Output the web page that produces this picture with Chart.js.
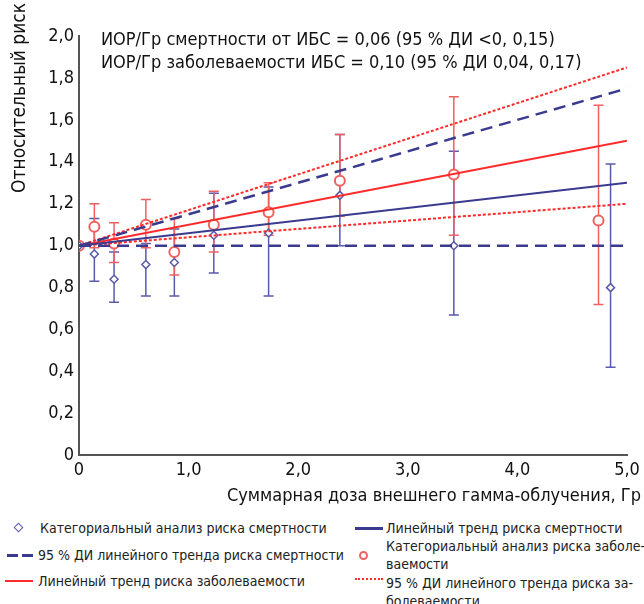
<!DOCTYPE html>
<html>
<head>
<meta charset="utf-8">
<script src="https://cdn.jsdelivr.net/npm/chart.js@4.4.1/dist/chart.umd.min.js"></script>
<style>
  body { margin: 0; background: #fff; }
  #wrap { position: relative; width: 644px; height: 604px; }
  canvas { position: absolute; left: 0; top: 0; }
  .lg { position: absolute; font-family: "DejaVu Sans Condensed", "DejaVu Sans", sans-serif; font-size: 14px; color: #222; line-height: 18px; white-space: nowrap; }
  .mk { position: absolute; }
</style>
</head>
<body>
<div id="wrap">
  <canvas id="chart" width="644" height="510"></canvas>
  <!-- legend -->
  <div class="mk" style="left:15px;top:524px;width:5px;height:5px;border:1.5px solid #5a5aaa;transform:rotate(45deg);background:#fff"></div>
  <div class="lg" style="left:40px;top:519px">Категориальный анализ риска смертности</div>
  <div class="mk" style="left:7px;top:554px;width:26px;height:3px;background:repeating-linear-gradient(90deg,#3a3a8f 0 11px,transparent 11px 15px)"></div>
  <div class="lg" style="left:38px;top:546px">95 % ДИ линейного тренда риска смертности</div>
  <div class="mk" style="left:5px;top:580px;width:28px;border-top:2px solid #ff2a2a"></div>
  <div class="lg" style="left:38px;top:572px">Линейный тренд риска заболеваемости</div>
  <div class="mk" style="left:355px;top:527px;width:28px;border-top:3px solid #3a3a8f"></div>
  <div class="lg" style="left:386px;top:519px">Линейный тренд риска смертности</div>
  <div class="mk" style="left:359px;top:551px;width:5px;height:5px;border:2px solid #f06060;border-radius:50%"></div>
  <div class="lg" style="left:386px;top:537px">Категориальный анализ риска заболе-<br>ваемости</div>
  <div class="mk" style="left:355px;top:578px;width:28px;border-top:2px dotted #ff2a2a"></div>
  <div class="lg" style="left:386px;top:574px">95 % ДИ линейного тренда риска за-<br>болеваемости</div>
</div>
<script>
// categorical analysis, mortality
const doseMort = [0, 0.14, 0.32, 0.61, 0.87, 1.23, 1.73, 2.38, 3.42, 4.85];
const rrMort   = [1.0, 0.96, 0.84, 0.91, 0.92, 1.05, 1.06, 1.24, 1.00, 0.80];
const loMort   = [null, 0.83, 0.73, 0.76, 0.76, 0.87, 0.76, 1.00, 0.67, 0.42];
const hiMort   = [null, 1.13, 0.97, 1.01, 1.08, 1.25, 1.28, 1.53, 1.45, 1.39];

// categorical analysis, morbidity
const doseMorb = [0, 0.14, 0.32, 0.61, 0.87, 1.23, 1.73, 2.38, 3.42, 4.74];
const rrMorb   = [1.0, 1.09, 1.01, 1.10, 0.97, 1.10, 1.16, 1.31, 1.34, 1.12];
const loMorb   = [null, 0.99, 0.92, 0.99, 0.86, 0.97, 1.05, 1.14, 1.05, 0.72];
const hiMorb   = [null, 1.20, 1.11, 1.22, 1.13, 1.26, 1.30, 1.53, 1.71, 1.67];

// ERR/Gy trends
const trendX = [0, 5];
const errMort = 0.06, errMortLo = 0.0, errMortHi = 0.15;
const errMorb = 0.10, errMorbLo = 0.04, errMorbHi = 0.17;

const xTicks = [0, 1, 2, 3, 4, 5];
const yTicks = [0, 0.2, 0.4, 0.6, 0.8, 1.0, 1.2, 1.4, 1.6, 1.8, 2.0];
const notes = [
  'ИОР/Гр смертности от ИБС = 0,06 (95 % ДИ <0, 0,15)',
  'ИОР/Гр заболеваемости ИБС = 0,10 (95 % ДИ 0,04, 0,17)'
];

const FONT = '"DejaVu Sans Condensed", "DejaVu Sans", sans-serif';
const BLUE = '#3a3a8f', BLUE_L = '#5a5aaa', RED = '#ff2a2a', RED_L = '#f06060';

const pts = (xs, ys) => xs.map((x, i) => ({ x: x, y: ys[i] }));
const trend = err => trendX.map(x => ({ x: x, y: 1 + err * x }));
const fmt = v => (v === 0 ? '0' : v.toFixed(1).replace('.', ','));

const errorBars = {
  id: 'errorBars',
  beforeDatasetsDraw(chart) {
    const { ctx, scales: { x, y } } = chart;
    const draw = (xs, lo, hi, color) => {
      ctx.save();
      ctx.strokeStyle = color;
      ctx.lineWidth = 1.5;
      xs.forEach((d, i) => {
        if (lo[i] == null) return;
        const px = x.getPixelForValue(d);
        const y1 = y.getPixelForValue(lo[i]), y2 = y.getPixelForValue(hi[i]);
        ctx.beginPath();
        ctx.moveTo(px, y1); ctx.lineTo(px, y2);
        ctx.moveTo(px - 5, y1); ctx.lineTo(px + 5, y1);
        ctx.moveTo(px - 5, y2); ctx.lineTo(px + 5, y2);
        ctx.stroke();
      });
      ctx.restore();
    };
    draw(doseMort, loMort, hiMort, BLUE_L);
    draw(doseMorb, loMorb, hiMorb, RED_L);
  },
  afterDraw(chart) {
    const { ctx, chartArea } = chart;
    ctx.save();
    ctx.fillStyle = '#111';
    ctx.font = '18px ' + FONT;
    ctx.textBaseline = 'middle';
    ctx.fillText(notes[0], chartArea.left + 22, 40);
    ctx.fillText(notes[1], chartArea.left + 22, 63);
    ctx.textAlign = 'right';
    ctx.fillText('Суммарная доза внешнего гамма-облучения, Гр', 641, 496);
    ctx.font = '19px ' + FONT;
    ctx.translate(20, 98);
    ctx.rotate(-Math.PI / 2);
    ctx.textAlign = 'center';
    ctx.fillText('Относительный риск', 0, 0);
    ctx.restore();
  }
};

new Chart(document.getElementById('chart'), {
  type: 'scatter',
  data: {
    datasets: [
      { label: 'ДИ смертн. низ', type: 'line', data: trend(errMortLo), borderColor: BLUE, borderWidth: 2.5, borderDash: [12, 7], pointRadius: 0 },
      { label: 'ДИ смертн. верх', type: 'line', data: trend(errMortHi), borderColor: BLUE, borderWidth: 2.5, borderDash: [12, 7], pointRadius: 0 },
      { label: 'Тренд смертн.', type: 'line', data: trend(errMort), borderColor: BLUE, borderWidth: 2, pointRadius: 0 },
      { label: 'ДИ заб. низ', type: 'line', data: trend(errMorbLo), borderColor: RED, borderWidth: 2, borderDash: [3, 2], pointRadius: 0 },
      { label: 'ДИ заб. верх', type: 'line', data: trend(errMorbHi), borderColor: RED, borderWidth: 2, borderDash: [3, 2], pointRadius: 0 },
      { label: 'Тренд заб.', type: 'line', data: trend(errMorb), borderColor: RED, borderWidth: 2, pointRadius: 0 },
      { label: 'Смертность', data: pts(doseMort, rrMort), pointStyle: 'rectRot', pointRadius: 4, borderColor: BLUE_L, backgroundColor: '#fff', borderWidth: 1.5 },
      { label: 'Заболеваемость', data: pts(doseMorb, rrMorb), pointStyle: 'circle', pointRadius: 5, borderColor: RED_L, backgroundColor: '#fff', borderWidth: 2 }
    ]
  },
  options: {
    responsive: false,
    animation: false,
    layout: { padding: { left: 0, right: 17, top: 36, bottom: 29 } },
    plugins: { legend: { display: false }, tooltip: { enabled: false } },
    scales: {
      x: {
        type: 'linear', min: 0, max: 5,
        afterBuildTicks: s => { s.ticks = xTicks.map(v => ({ value: v })); },
        ticks: { color: '#111', font: { family: FONT, size: 18 }, padding: 0, callback: fmt },
        grid: { display: false, drawTicks: true, tickLength: 4, tickColor: '#555' },
        border: { color: '#555', width: 2 }
      },
      y: {
        min: 0, max: 2,
        afterBuildTicks: s => { s.ticks = yTicks.map(v => ({ value: v })); },
        afterFit: s => { s.width = 79; },
        ticks: { color: '#111', font: { family: FONT, size: 18 }, padding: 1, callback: fmt },
        grid: { display: false, drawTicks: true, tickLength: 4, tickColor: '#555' },
        border: { color: '#555', width: 2 }
      }
    }
  },
  plugins: [errorBars]
});
</script>
</body>
</html>
